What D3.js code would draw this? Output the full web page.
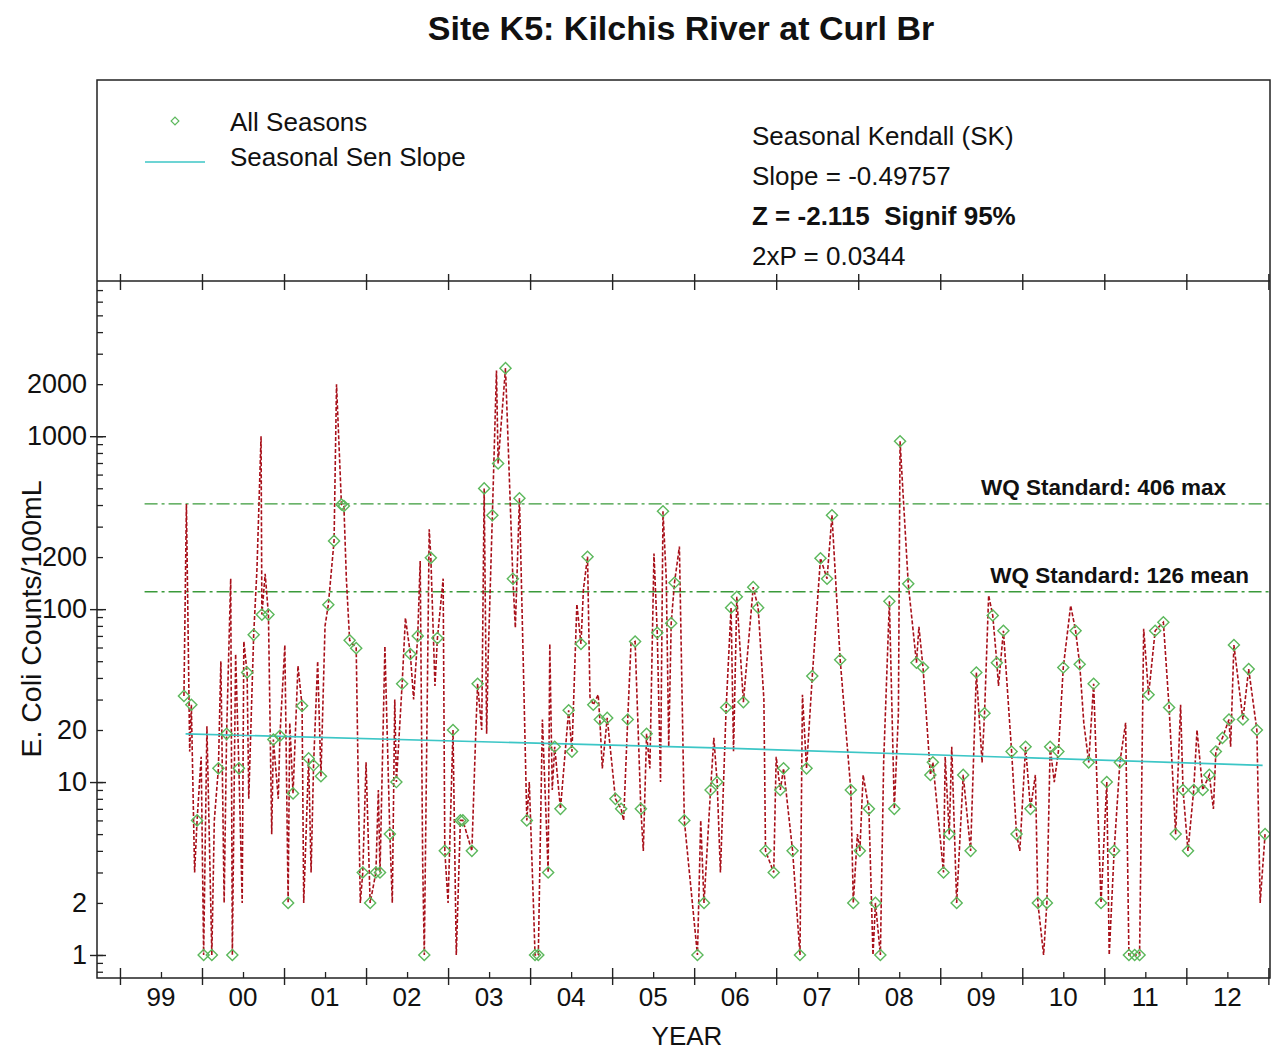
<!DOCTYPE html>
<html>
<head>
<style>
  body { margin: 0; background: #fff; }
  text { font-family: "Liberation Sans", Arial, sans-serif; fill: #111; }
</style>
</head>
<body>
<div id="chart"></div>
<script src="https://cdnjs.cloudflare.com/ajax/libs/d3/7.8.5/d3.min.js"></script>
<script>
// seasonal samples (green diamonds): [decimal year, counts/100mL]
const seasonSamples = [
  [1999.78, 31.5], [1999.87, 28], [1999.94, 6], [2000.02, 1], [2000.12, 1], [2000.20, 12],
  [2000.30, 19], [2000.37, 1], [2000.45, 12], [2000.55, 43], [2000.63, 71], [2000.73, 93],
  [2000.81, 93], [2000.87, 17.6], [2000.95, 18.5], [2001.05, 2], [2001.11, 8.6], [2001.22, 27.6],
  [2001.30, 13.7], [2001.36, 12.5], [2001.45, 10.8], [2001.54, 106], [2001.61, 248], [2001.70, 403],
  [2001.73, 395], [2001.80, 66], [2001.88, 59.5], [2001.96, 3], [2002.05, 2], [2002.12, 3],
  [2002.17, 3], [2002.29, 5], [2002.37, 10], [2002.44, 37], [2002.54, 55], [2002.63, 70],
  [2002.71, 1], [2002.79, 198], [2002.87, 68], [2002.96, 4], [2003.06, 20], [2003.15, 6],
  [2003.18, 6], [2003.29, 4], [2003.36, 37], [2003.44, 499], [2003.54, 349], [2003.61, 695],
  [2003.70, 2475], [2003.79, 150], [2003.87, 438], [2003.96, 6], [2004.06, 1], [2004.10, 1],
  [2004.22, 3], [2004.30, 16], [2004.37, 7], [2004.47, 26], [2004.51, 15], [2004.62, 63],
  [2004.70, 201], [2004.77, 28], [2004.85, 23], [2004.94, 23.5], [2005.04, 8], [2005.11, 7],
  [2005.19, 23], [2005.28, 65], [2005.35, 7], [2005.42, 19], [2005.55, 73], [2005.62, 368],
  [2005.72, 83], [2005.76, 142], [2005.88, 6], [2006.04, 1], [2006.12, 2], [2006.20, 9],
  [2006.28, 10], [2006.39, 27], [2006.45, 102], [2006.52, 118], [2006.60, 29], [2006.72, 134],
  [2006.78, 102], [2006.87, 4], [2006.97, 3], [2007.05, 9], [2007.09, 12], [2007.20, 4],
  [2007.29, 1], [2007.37, 12], [2007.44, 41], [2007.54, 197], [2007.62, 150], [2007.68, 349],
  [2007.78, 51], [2007.91, 9], [2007.94, 2], [2008.02, 4], [2008.13, 7], [2008.21, 2],
  [2008.27, 1], [2008.38, 111], [2008.44, 7], [2008.51, 935], [2008.61, 140], [2008.71, 49],
  [2008.79, 46], [2008.88, 11], [2008.91, 13], [2009.04, 3], [2009.11, 5], [2009.20, 2],
  [2009.28, 11], [2009.37, 4], [2009.44, 43], [2009.54, 25], [2009.64, 92], [2009.69, 49],
  [2009.77, 75], [2009.87, 15], [2009.93, 5], [2010.04, 16], [2010.10, 7], [2010.19, 2],
  [2010.30, 2], [2010.34, 16], [2010.44, 15], [2010.50, 46], [2010.65, 75], [2010.70, 48],
  [2010.81, 13], [2010.87, 37], [2010.96, 2], [2011.03, 10], [2011.12, 4], [2011.19, 13],
  [2011.30, 1], [2011.37, 1], [2011.43, 1], [2011.54, 32], [2011.62, 75], [2011.72, 84],
  [2011.79, 27], [2011.87, 5], [2011.96, 9], [2012.02, 4], [2012.09, 9], [2012.20, 9],
  [2012.28, 11], [2012.36, 15], [2012.44, 18], [2012.52, 23], [2012.58, 62], [2012.69, 23],
  [2012.76, 45], [2012.86, 20], [2012.96, 5]
];

// other readings on the red trace (no marker)
const extraReadings = [
  [1999.81, 406], [1999.85, 15], [1999.91, 3], [1999.99, 14], [2000.06, 21], [2000.15, 6],
  [2000.23, 50], [2000.27, 2], [2000.35, 150], [2000.41, 55], [2000.49, 2], [2000.51, 65],
  [2000.57, 8], [2000.67, 170], [2000.72, 1000], [2000.77, 160], [2000.85, 5], [2000.93, 8],
  [2001.01, 62], [2001.07, 22], [2001.17, 47], [2001.24, 2], [2001.33, 3], [2001.41, 50],
  [2001.50, 80], [2001.64, 2000], [2001.76, 150], [2001.90, 14], [2001.93, 2], [2002.00, 13],
  [2002.15, 9], [2002.23, 61], [2002.32, 2], [2002.35, 30], [2002.48, 89], [2002.58, 30],
  [2002.66, 190], [2002.69, 3.5], [2002.77, 290], [2002.84, 36], [2002.94, 150], [2003.00, 2],
  [2003.10, 1], [2003.34, 21], [2003.41, 20], [2003.47, 19], [2003.49, 55], [2003.59, 2400],
  [2003.82, 78], [2003.92, 42], [2003.99, 10], [2004.04, 2], [2004.15, 23], [2004.24, 63],
  [2004.27, 9], [2004.57, 107], [2004.65, 130], [2004.73, 31], [2004.83, 32], [2004.88, 12],
  [2005.14, 6], [2005.23, 63], [2005.38, 4], [2005.46, 12], [2005.51, 210], [2005.59, 10],
  [2005.66, 150], [2005.69, 16], [2005.82, 230], [2006.08, 6], [2006.24, 18], [2006.32, 3],
  [2006.48, 15], [2006.85, 30], [2007.00, 14], [2007.32, 32], [2007.99, 5], [2008.06, 11],
  [2008.18, 1], [2008.31, 13], [2008.49, 25], [2008.74, 79], [2009.06, 14], [2009.14, 16],
  [2009.51, 13], [2009.59, 120], [2009.71, 36], [2009.97, 4], [2010.16, 11], [2010.26, 1],
  [2010.39, 10], [2010.59, 105], [2010.75, 22], [2011.06, 1], [2011.26, 22], [2011.48, 77],
  [2011.93, 28], [2012.13, 20], [2012.33, 7], [2012.54, 16], [2012.90, 2]
];

// seasonal Sen slope trend (cyan)
const senLine = [[1999.80, 19.0], [2006.37, 15.7], [2012.93, 12.5]];

// water quality standards
const wqStandards = [
  { value: 406, label: "WQ Standard: 406 max" },
  { value: 126, label: "WQ Standard: 126 mean" }
];
const wqStartYear = 1999.3;

const yTickLabels = [1, 2, 10, 20, 100, 200, 1000, 2000];
const yMajorTicks = [1, 10, 100, 1000];
const yearStarts = d3.range(1999, 2014);
const yearLabels = ["99", "00", "01", "02", "03", "04", "05", "06", "07", "08", "09", "10", "11", "12"];

const statsLines = [
  { text: "Seasonal Kendall (SK)", bold: false },
  { text: "Slope = -0.49757", bold: false },
  { text: "Z = -2.115  Signif 95%", bold: true },
  { text: "2xP = 0.0344", bold: false }
];

const width = 1277, height = 1052;
const box = { left: 97, right: 1270, top: 80, axisTop: 281, bottom: 978 };

const svg = d3.select("#chart").append("svg")
  .attr("width", width)
  .attr("height", height);

const x = d3.scaleLinear().domain([1998.72, 2013.02]).range([box.left, box.right]);
const y = d3.scaleLog().domain([0.736, 7900]).range([box.bottom, box.axisTop]);

// title
svg.append("text")
  .attr("x", 681).attr("y", 40)
  .attr("text-anchor", "middle")
  .style("font-size", "34px").style("font-weight", "bold")
  .text("Site K5: Kilchis River at Curl Br");

// clip for the data
svg.append("defs").append("clipPath").attr("id", "plot-clip")
  .append("rect")
  .attr("x", box.left).attr("y", box.axisTop)
  .attr("width", box.right - box.left).attr("height", box.bottom - box.axisTop);

const plot = svg.append("g").attr("clip-path", "url(#plot-clip)");

// WQ standard lines
const wqLabelEnd = [box.right - 44, box.right - 21];
wqStandards.forEach((d, i) => {
  plot.append("line")
    .attr("x1", x(wqStartYear)).attr("x2", box.right)
    .attr("y1", y(d.value)).attr("y2", y(d.value))
    .attr("stroke", "#3a9a3a")
    .attr("stroke-width", 1.4)
    .attr("stroke-dasharray", "13,4,3,4");
  svg.append("text")
    .attr("x", wqLabelEnd[i]).attr("y", y(d.value) - 9)
    .attr("text-anchor", "end")
    .style("font-size", "22.5px").style("font-weight", "bold")
    .text(d.label);
});

// red trace through all readings
const trace = seasonSamples.concat(extraReadings).sort((a, b) => a[0] - b[0]);
const line = d3.line().x(d => x(d[0])).y(d => y(d[1]));

plot.append("path")
  .datum(trace)
  .attr("d", line)
  .attr("fill", "none")
  .attr("stroke", "#a8101a")
  .attr("stroke-width", 1.6)
  .attr("stroke-dasharray", "4,2");

// Sen slope
plot.append("path")
  .datum(senLine)
  .attr("d", line.curve(d3.curveMonotoneX))
  .attr("fill", "none")
  .attr("stroke", "#3cc6c6")
  .attr("stroke-width", 1.7);

// diamonds
const diamond = d3.symbol(d3.symbolSquare, 62);
plot.selectAll(".pt")
  .data(seasonSamples)
  .join("path")
  .attr("class", "pt")
  .attr("d", diamond)
  .attr("transform", d => `translate(${x(d[0])},${y(d[1])}) rotate(45)`)
  .attr("fill", "none")
  .attr("stroke", "#5cb85c")
  .attr("stroke-width", 1.4);

// frame
svg.append("rect")
  .attr("x", box.left).attr("y", box.top)
  .attr("width", box.right - box.left).attr("height", box.bottom - box.top)
  .attr("fill", "none").attr("stroke", "#222").attr("stroke-width", 1.5);
svg.append("line")
  .attr("x1", box.left).attr("x2", box.right)
  .attr("y1", box.axisTop).attr("y2", box.axisTop)
  .attr("stroke", "#222").attr("stroke-width", 1.5);

// y axis: minor ticks inside
const yMinor = svg.append("g")
  .attr("transform", `translate(${box.left},0)`)
  .call(d3.axisRight(y).tickValues(y.ticks().filter(v => v <= 7000)).tickSize(6).tickSizeOuter(0).tickFormat(""));
yMinor.select(".domain").remove();
yMinor.selectAll("line").attr("stroke", "#222").attr("stroke-width", 1.3);

// y axis: major ticks crossing
const yMajor = svg.append("g")
  .attr("transform", `translate(${box.left},0)`)
  .call(d3.axisRight(y).tickValues(yMajorTicks).tickSize(8).tickFormat(""));
yMajor.select(".domain").remove();
yMajor.selectAll("line").attr("x1", -7).attr("x2", 9).attr("stroke", "#222").attr("stroke-width", 1.4);

// y labels
const yLab = svg.append("g")
  .attr("transform", `translate(${box.left},0)`)
  .call(d3.axisLeft(y).tickValues(yTickLabels).tickSize(0).tickPadding(10).tickFormat(d3.format("d")));
yLab.select(".domain").remove();
yLab.selectAll("text")
  .style("font-size", "27px")
  .style("font-family", "'Liberation Sans', Arial, sans-serif")
  .attr("fill", "#111");

svg.append("text")
  .attr("transform", `translate(41,619) rotate(-90)`)
  .attr("text-anchor", "middle")
  .style("font-size", "28.5px")
  .text("E. Coli Counts/100mL");

// top axis ticks (legend separator)
const xTop = svg.append("g")
  .attr("transform", `translate(0,${box.axisTop})`)
  .call(d3.axisBottom(x).tickValues(yearStarts).tickSize(8).tickFormat(""));
xTop.select(".domain").remove();
xTop.selectAll("line").attr("y1", -7).attr("y2", 9).attr("stroke", "#222").attr("stroke-width", 1.4);

// bottom axis: year boundaries crossing
const xBottom = svg.append("g")
  .attr("transform", `translate(0,${box.bottom})`)
  .call(d3.axisBottom(x).tickValues(yearStarts).tickSize(8).tickFormat(""));
xBottom.select(".domain").remove();
xBottom.selectAll("line").attr("y1", -10).attr("y2", 7).attr("stroke", "#222").attr("stroke-width", 1.4);

// bottom axis: mid-year ticks with labels
const xMid = svg.append("g")
  .attr("transform", `translate(0,${box.bottom})`)
  .call(d3.axisTop(x).tickValues(yearLabels.map((d, i) => 1999.5 + i)).tickSize(6).tickFormat(""));
xMid.select(".domain").remove();
xMid.selectAll("line").attr("stroke", "#222").attr("stroke-width", 1.3);

svg.append("g").selectAll("text")
  .data(yearLabels)
  .join("text")
  .attr("x", (d, i) => x(1999.5 + i))
  .attr("y", box.bottom + 28)
  .attr("text-anchor", "middle")
  .style("font-size", "26px")
  .text(d => d);

svg.append("text")
  .attr("x", 687).attr("y", 1045)
  .attr("text-anchor", "middle")
  .style("font-size", "26px")
  .text("YEAR");

// legend
svg.append("path")
  .attr("d", d3.symbol(d3.symbolSquare, 30)())
  .attr("transform", "translate(175,121) rotate(45)")
  .attr("fill", "none").attr("stroke", "#5cb85c").attr("stroke-width", 1.2);
svg.append("line")
  .attr("x1", 145).attr("x2", 205).attr("y1", 162).attr("y2", 162)
  .attr("stroke", "#3cc6c6").attr("stroke-width", 1.7);
svg.append("text").attr("x", 230).attr("y", 131).style("font-size", "26px").text("All Seasons");
svg.append("text").attr("x", 230).attr("y", 166).style("font-size", "26px").text("Seasonal Sen Slope");

// stats
svg.append("g").selectAll("text")
  .data(statsLines)
  .join("text")
  .attr("x", 752)
  .attr("y", (d, i) => 145 + i * 40)
  .style("font-size", "26px")
  .style("white-space", "pre")
  .style("font-weight", d => d.bold ? "bold" : "normal")
  .text(d => d.text);
</script>
</body>
</html>
